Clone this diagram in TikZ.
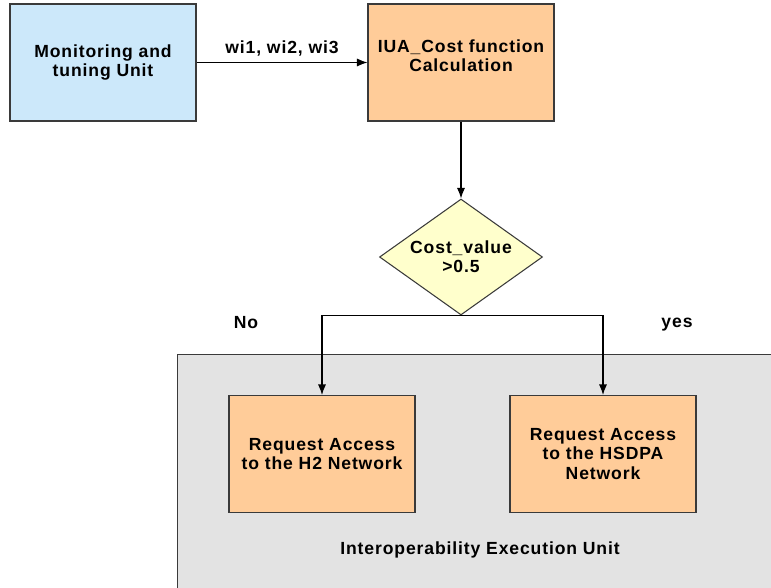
\documentclass[tikz,border=0pt]{standalone}
\usepackage{fontspec}
\setmainfont{Liberation Sans}[LetterSpace=5]
\usetikzlibrary{arrows.meta,positioning,shapes.geometric}
\definecolor{skyblue}{HTML}{CCE8FA}
\definecolor{peach}{HTML}{FFCC99}
\definecolor{cream}{HTML}{FFFFCC}
\definecolor{panelgray}{HTML}{E3E3E3}
\definecolor{edge}{HTML}{3A3A3A}

\begin{document}
\begin{tikzpicture}[
  x=0.02cm,y=-0.02cm,
  font=\fontsize{10}{11}\selectfont\bfseries,
  flow/.style={-{Latex[length=2.1mm,width=1.6mm]},draw=black,line width=0.6pt},
  box/.style={draw=edge,line width=0.6pt,minimum width=3.72cm,
    minimum height=2.34cm,align=center,inner sep=3pt},
  unit/.style={box,fill=skyblue},
  calcbox/.style={box,fill=peach},
  decide/.style={diamond,aspect=1.4,draw=edge,fill=cream,line width=0.6pt,
    minimum width=3.26cm,minimum height=2.32cm,inner sep=0pt,align=center},
  execpanel/.style={draw=edge,fill=panelgray,line width=0.6pt,
    minimum width=12.4cm,minimum height=5.2cm,anchor=north west,inner sep=0pt}
]
\useasboundingbox (0,0) rectangle (771,588);
\clip (0,0) rectangle (771,588);

\node[execpanel] (execunit) at (177,354) {};
\node (execlabel) at (480,550) {Interoperability Execution Unit};

\node[unit] (monitor) at (103,62.5) {Monitoring and\\tuning Unit};
\node[calcbox] (costcalc) at (461,62.5) {IUA\_Cost function\\Calculation\\[-0.6ex]};
\node[decide] (decision) at (461,257) {Cost\_value\\>0.5};
\node[calcbox] (h2req) at (322,454) {Request Access\\to the H2 Network};
\node[calcbox] (hsdpareq) at (603,454) {Request Access\\to the HSDPA\\Network};

\node (nolabel) at (246,323) {No};
\node (yeslabel) at (677,325) {yes};

\draw[flow] (monitor) -- node[above] {wi1, wi2, wi3} (costcalc);
\draw[flow] (costcalc) -- (decision);
% both branches leave from the lower tip of the decision
\draw[flow] (decision.south) -| (h2req.north);
\draw[flow] (decision.south) -| (hsdpareq.north);
\end{tikzpicture}
\end{document}
